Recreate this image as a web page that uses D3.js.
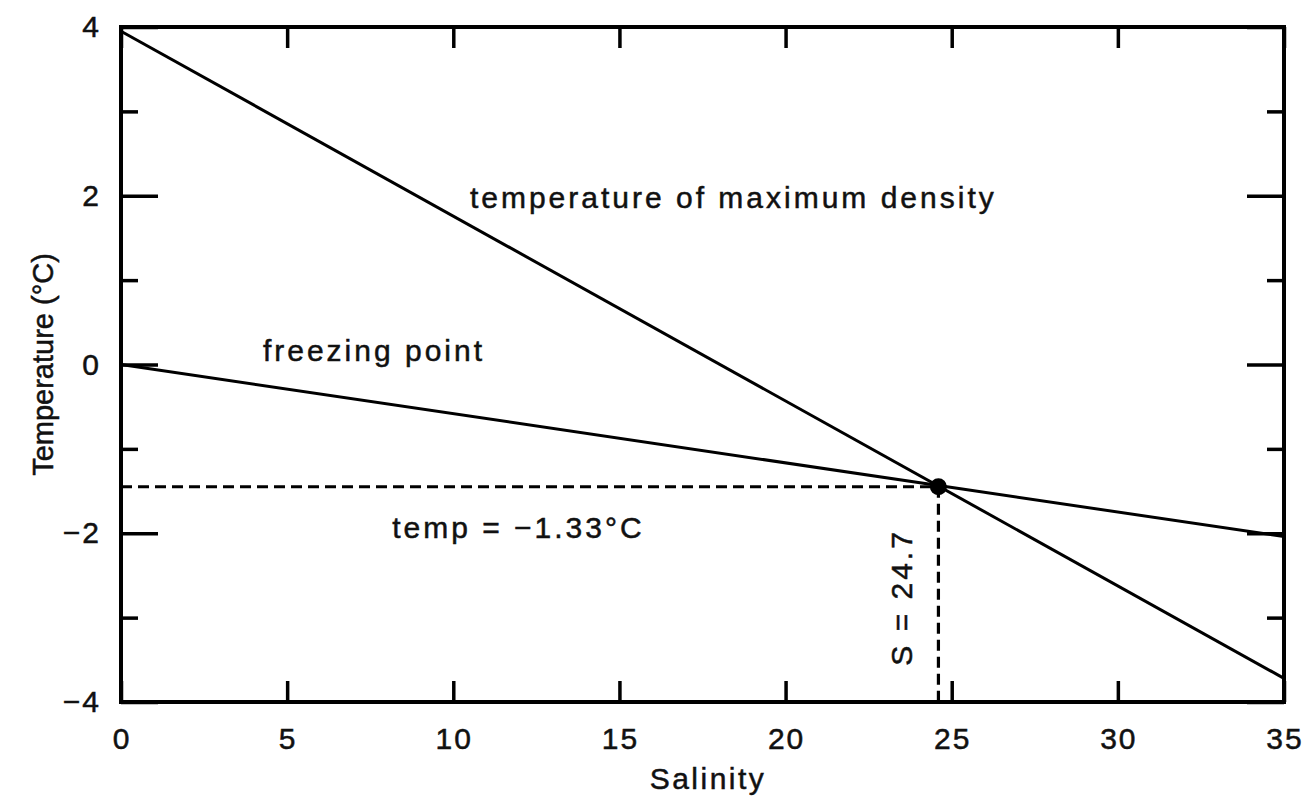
<!DOCTYPE html>
<html>
<head>
<meta charset="utf-8">
<script src="https://cdn.jsdelivr.net/npm/d3@7"></script>
<style>
  body { margin: 0; background: #fff; overflow: hidden; }
  svg { display: block; }
  .axis path.domain { display: none; }
  .axis line { stroke: #000; stroke-width: 3.5; }
  .label {
    font-family: "Liberation Sans", Arial, sans-serif;
    font-size: 30px; fill: #111; stroke: #111; stroke-width: 0.5px;
  }
</style>
</head>
<body>
<svg id="chart" width="1304" height="803"></svg>
<script>
// data
const salinity = [0, 35];
const maxDensityTemp = [3.95, -3.72];
const freezingTemp = [0, -2.04];
const crossingS = 24.6;
const crossingT = -1.45;

const xTicks = [0, 5, 10, 15, 20, 25, 30, 35];
const yMajorTicks = [-4, -2, 0, 2, 4];
const yMinorTicks = [-3, -1, 1, 3];

const annotations = [
  { text: "temperature of maximum density", s: 10.5, t: 1.85, rotate: false },
  { text: "freezing point", s: 4.27, t: 0.04, rotate: false },
  { text: "temp = \u22121.33°C", s: 8.16, t: -2.06, rotate: false },
  { text: "S = 24.7", s: 23.8, t: -3.57, rotate: true }
];

const margin = { top: 27, right: 20, bottom: 101, left: 121 };
const width = 1304, height = 803;
const innerWidth = width - margin.left - margin.right;
const innerHeight = height - margin.top - margin.bottom;

const svg = d3.select("#chart");
const innerChart = svg.append("g")
  .attr("transform", `translate(${margin.left},${margin.top})`);

const xScale = d3.scaleLinear().domain([0, 35]).range([0, innerWidth]);
const yScale = d3.scaleLinear().domain([-4, 4]).range([innerHeight, 0]);

// tick marks only (inward), labels drawn separately
const addTicks = (axis, dx, dy) => {
  const g = innerChart.append("g")
    .attr("class", "axis")
    .attr("transform", `translate(${dx},${dy})`)
    .call(axis.tickFormat(""));
  g.selectAll("text").remove();
};

addTicks(d3.axisLeft(yScale).tickValues(yMajorTicks).tickSize(-37), 0, 0);
addTicks(d3.axisLeft(yScale).tickValues(yMinorTicks).tickSize(-17), 0, 0);
addTicks(d3.axisRight(yScale).tickValues(yMajorTicks).tickSize(-37), innerWidth, 0);
addTicks(d3.axisRight(yScale).tickValues(yMinorTicks).tickSize(-17), innerWidth, 0);
addTicks(d3.axisBottom(xScale).tickValues(xTicks).tickSize(-21), 0, innerHeight);
addTicks(d3.axisTop(xScale).tickValues(xTicks).tickSize(-21), 0, 0);

const fmt = d3.format("d");

innerChart.selectAll(".ylab")
  .data(yMajorTicks)
  .join("text")
  .attr("class", "label ylab")
  .attr("x", -20)
  .attr("y", d => yScale(d) + 10)
  .attr("text-anchor", "end")
  .attr("letter-spacing", 2)
  .text(fmt);

innerChart.selectAll(".xlab")
  .data(xTicks)
  .join("text")
  .attr("class", "label xlab")
  .attr("x", d => xScale(d) + 1)
  .attr("y", innerHeight + 47)
  .attr("text-anchor", "middle")
  .attr("letter-spacing", 2)
  .text(fmt);

// frame
innerChart.append("rect")
  .attr("width", innerWidth)
  .attr("height", innerHeight)
  .attr("fill", "none")
  .attr("stroke", "#000")
  .attr("stroke-width", 4);

// lines
const lineGen = d3.line()
  .x(d => xScale(d[0]))
  .y(d => yScale(d[1]));

innerChart.append("path")
  .datum(d3.zip(salinity, maxDensityTemp))
  .attr("d", lineGen)
  .attr("fill", "none")
  .attr("stroke", "#000")
  .attr("stroke-width", 3);

innerChart.append("path")
  .datum(d3.zip(salinity, freezingTemp))
  .attr("d", lineGen)
  .attr("fill", "none")
  .attr("stroke", "#000")
  .attr("stroke-width", 3);

// dashed guides to the crossing point
innerChart.append("path")
  .datum([[0, crossingT], [crossingS, crossingT]])
  .attr("d", lineGen)
  .attr("fill", "none")
  .attr("stroke", "#000")
  .attr("stroke-width", 3)
  .attr("stroke-dasharray", "11 6");

innerChart.append("path")
  .datum([[crossingS, crossingT], [crossingS, -4]])
  .attr("d", lineGen)
  .attr("fill", "none")
  .attr("stroke", "#000")
  .attr("stroke-width", 3.2)
  .attr("stroke-dasharray", "11 6");

innerChart.append("circle")
  .attr("cx", xScale(crossingS))
  .attr("cy", yScale(crossingT))
  .attr("r", 8.5)
  .attr("fill", "#000");

// annotations
innerChart.selectAll(".note")
  .data(annotations)
  .join("text")
  .attr("class", "label note")
  .attr("transform", d => `translate(${xScale(d.s)},${yScale(d.t)})${d.rotate ? " rotate(-90)" : ""}`)
  .attr("letter-spacing", 3)
  .text(d => d.text);

// axis titles
svg.append("text")
  .attr("class", "label")
  .attr("transform", `translate(53,${margin.top + innerHeight / 2}) rotate(-90)`)
  .attr("text-anchor", "middle")
  .style("font-size", "29px")
  .text("Temperature (°C)");

svg.append("text")
  .attr("class", "label")
  .attr("x", 708)
  .attr("y", 789)
  .attr("text-anchor", "middle")
  .attr("letter-spacing", 2.5)
  .text("Salinity");
</script>
</body>
</html>
